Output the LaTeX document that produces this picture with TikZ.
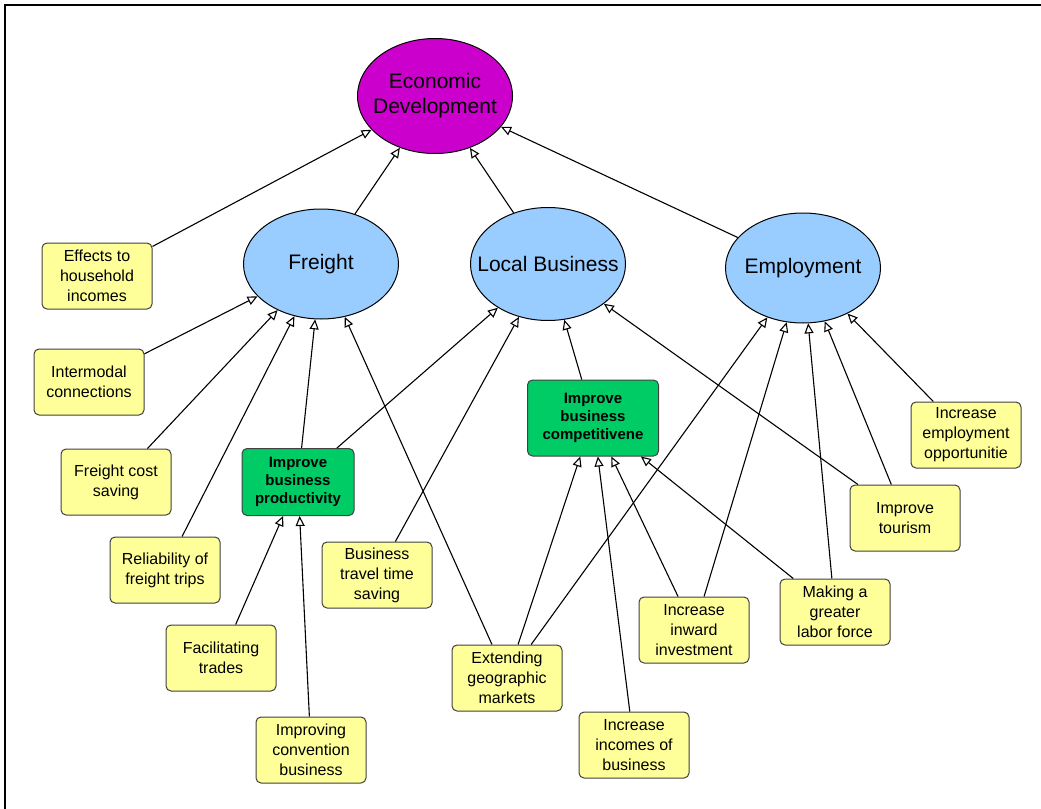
\documentclass[tikz,border=0pt]{standalone}
\usepackage{fontspec}
\setmainfont{Liberation Sans}
\usepackage{tikz}
\usetikzlibrary{shapes.geometric, arrows.meta}
\definecolor{goalmagenta}{HTML}{CC00CC}
\definecolor{areablue}{HTML}{99CCFF}
\definecolor{subgreen}{HTML}{00CC66}
\definecolor{factoryellow}{HTML}{FFFF99}
\tikzset{
  % Goal ellipses
  goal/.style={
    ellipse, minimum width=77.5pt, minimum height=55pt,
    inner xsep=-25pt, inner ysep=0pt,
    draw=black, fill=#1, line width=0.5pt, align=center,
    font=\fontsize{10.5}{12.5}\selectfont,
  },
  goal/.default={areablue},
  % Factor boxes
  factor/.style={
    rectangle, rounded corners=2.5pt, minimum width=55pt, minimum height=33pt,
    inner sep=1pt, draw=black!75, fill=factoryellow, line width=0.5pt,
    align=center, font=\fontsize{8}{10}\selectfont,
  },
  % Sub-goal boxes
  subgoal/.style={
    rectangle, rounded corners=2.5pt, minimum width=56pt, minimum height=33.5pt,
    inner sep=1pt, draw=black!75, fill=subgreen, line width=0.5pt,
    align=center, font=\fontsize{7.5}{9}\selectfont\bfseries,
  },
  % Arrows
  link/.style={-{Triangle[open, length=5pt, width=4.5pt]}, line width=0.55pt, black},
}
\begin{document}
\begin{tikzpicture}[x=0.5pt, y=-0.5pt]

  \useasboundingbox (0,0) rectangle (1041,809);
  % frame
  \draw[line width=1pt] (5,809) -- (5,5) -- (1041,5);

  % Goals
  \node[goal=goalmagenta, minimum height=57.5pt] (econ) at (435, 96) {Economic\\Development};
  \node[goal] (freight) at (321, 264) {Freight};
  \node[goal, minimum height=56.5pt] (local) at (548, 264) {Local Business};
  \node[goal] (employ) at (803, 268) {Employment};

  % Sub-goals
  \node[subgoal] (product) at (298, 482) {Improve\\business\\productivity};
  \node[subgoal, minimum width=65.5pt, minimum height=38pt] (compet) at (593, 418) {Improve\\business\\competitivene};

  % Factors
  \node[factor] (effects) at (97, 276) {Effects to\\household\\incomes};
  \node[factor] (intermodal) at (89, 382) {Intermodal\\connections};
  \node[factor] (costsave) at (116, 482) {Freight cost\\saving};
  \node[factor] (reliab) at (165, 570) {Reliability of\\freight trips};
  \node[factor] (facil) at (221, 658) {Facilitating\\trades};
  \node[factor] (convention) at (311, 750) {Improving\\convention\\business};
  \node[factor] (travel) at (377, 575) {Business\\travel time\\saving};
  \node[factor] (extend) at (507, 678) {Extending\\geographic\\markets};
  \node[factor] (incomes) at (634, 745) {Increase\\incomes of\\business};
  \node[factor] (inward) at (694, 630) {Increase\\inward\\investment};
  \node[factor] (labor) at (835, 612) {Making a\\greater\\labor force};
  \node[factor] (tourism) at (905, 518) {Improve\\tourism};
  \node[factor] (empopp) at (966, 435) {Increase\\employment\\opportunitie};

  % Links to economic development
  \draw[link] (effects) -- (econ);
  \draw[link] (freight) -- (econ);
  \draw[link] (local) -- (econ);
  \draw[link] (employ) -- (econ);

  % Links to freight
  \draw[link] (intermodal) -- (freight);
  \draw[link] (costsave) -- (freight);
  \draw[link] (reliab) -- (freight);
  \draw[link] (product) -- (freight);
  \draw[link] (extend) -- (freight);

  % Links to local business
  \draw[link] (product) -- (local);
  \draw[link] (travel) -- (local);
  \draw[link] (compet) -- (local);
  \draw[link] (tourism) -- (local);

  % Links to employment
  \draw[link] (extend) -- (employ);
  \draw[link] (inward) -- (employ);
  \draw[link] (labor) -- (employ);
  \draw[link] (tourism) -- (employ);
  \draw[link] (empopp) -- (employ);

  % Links to sub-goals
  \draw[link] (facil) -- (product);
  \draw[link] (convention) -- (product);
  \draw[link] (extend) -- (compet);
  \draw[link] (incomes) -- (compet);
  \draw[link] (inward) -- (compet);
  \draw[link] (labor) -- (compet);

\end{tikzpicture}
\end{document}
